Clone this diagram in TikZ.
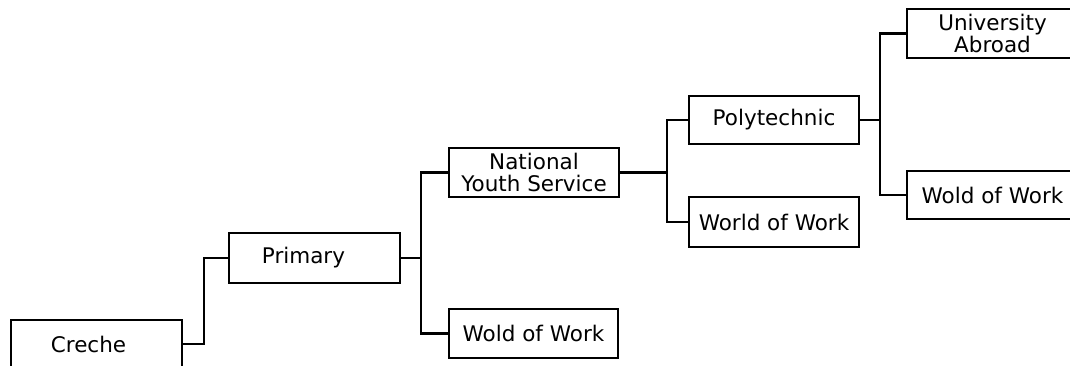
\documentclass[tikz,border=0pt]{standalone}
\usepackage{fontspec}
\setmainfont{DejaVu Sans}
\usetikzlibrary{calc}
\definecolor{inkcol}{RGB}{0,0,0}
\tikzset{
  stage/.style={
    draw=inkcol, line width=1.6pt, rectangle, align=center,
    inner sep=0pt, font=\fontsize{21.5}{22}\selectfont
  },
  link/.style={inkcol, line width=2.2pt}
}

\begin{document}
\begin{tikzpicture}[x=1pt, y=-1pt]

  % --- page frame, same size as the reference ---------------------------
  \useasboundingbox (0,0) rectangle (1070,366);
  \clip (0,0) rectangle (1070,366);

  % --- the stages --------------------------------------------------------
  \node[stage, minimum width=171pt, minimum height=48pt] (Creche) at (96.5,344) {Creche\hspace{16pt}};
  \node[stage, minimum width=171pt, minimum height=50pt] (Primary) at (314.5,258) {Primary\hspace{22pt}};
  \node[stage, minimum width=170pt, minimum height=49pt] (Youth) at (534,172.5) {National\\Youth Service};
  \node[stage, minimum width=169pt, minimum height=49pt] (WoldA) at (533.5,333.5) {Wold of Work};
  \node[stage, minimum width=170pt, minimum height=48pt] (Poly) at (774,120) {Polytechnic};
  \node[stage, minimum width=170pt, minimum height=50pt] (WorldB) at (774,222) {World of Work};
  \node[stage, minimum width=171pt, minimum height=49pt] (Univ) at (992.5,33.5) {University\\Abroad\hspace{6pt}};
  \node[stage, minimum width=171pt, minimum height=48pt] (WoldC) at (992.5,195) {Wold of Work};

  % --- connectors --------------------------------------------------------
  \draw[link] (Creche.east) -- ++(21,0) |- (Primary.west);

  \draw[link] (Primary.east) -- ++(20,0) coordinate (ForkA);
  \draw[link] (Youth.west) -| (ForkA) |- (WoldA.west);

  \draw[link] (Youth.east) -- ++(47,0) coordinate (ForkB);
  \draw[link] (Poly.west) -| (ForkB) |- (WorldB.west);

  \draw[link, line width=1.3pt] (Poly.east) -- ++(20,0) coordinate (ForkC);
  \draw[link] (Univ.west) -| (ForkC) |- (WoldC.west);

\end{tikzpicture}
\end{document}
